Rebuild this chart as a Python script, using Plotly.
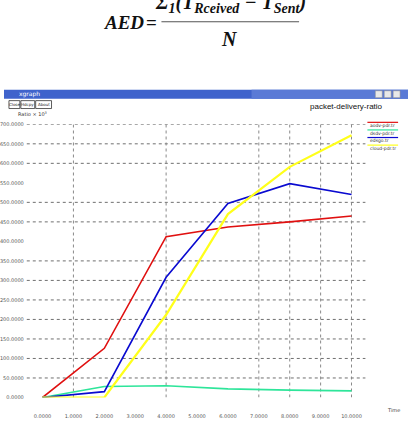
import plotly.graph_objects as go

# ---- data ----
time = [0, 2, 4, 6, 8, 10]
series_names = ["aodv-pdr.tr", "dsdv-pdr.tr", "edsgo.tr", "cloud-pdr.tr"]
red_vals = [0, 126, 412, 437, 450, 465]
green_vals = [0, 28, 30, 22, 19, 17]
blue_vals = [0, 15, 308, 497, 548, 520]
yellow_vals = [0, 0, 212, 470, 591, 672]
series_vals = [red_vals, green_vals, blue_vals, yellow_vals]
series_colors = ["#e01010", "#2ee59a", "#0a0ad0", "#ffff1a"]
series_widths = [1.6, 1.6, 1.6, 2.2]

x_ticks = [0, 1, 2, 3, 4, 5, 6, 7, 8, 9, 10]
y_ticks = list(range(0, 701, 50))
x_grid = [1, 4, 7, 8, 9, 10]
y_grid = [50, 100, 150, 200, 250, 300, 350, 450, 500, 600, 650, 700]

W, H = 408, 436
def px(x):
    return x / W
def py(y):
    return 1 - y / H

def ann(x, y, text, size, color="#333", family="DejaVu Sans", xa="center", ya="middle"):
    return dict(x=px(x), y=py(y), xref="paper", yref="paper", text=text, showarrow=False,
                xanchor=xa, yanchor=ya, font=dict(size=size, color=color, family=family))

fig = go.Figure()
for name, vals, col, w in zip(series_names, series_vals, series_colors, series_widths):
    fig.add_trace(go.Scatter(x=time, y=vals, mode="lines", name=name,
                             line=dict(color=col, width=w), showlegend=False))

shapes = []
for gx in x_grid:
    shapes.append(dict(type="line", xref="x", yref="y", x0=gx, x1=gx, y0=0, y1=700,
                       line=dict(color="#8a8a8a", width=1, dash="dot"), layer="below"))
for gy in y_grid:
    shapes.append(dict(type="line", xref="x domain", yref="y", x0=0, x1=1, y0=gy, y1=gy,
                       line=dict(color="#6f6f6f", width=1, dash="dot"), layer="below"))

annotations = []
# window chrome
shapes.append(dict(type="rect", xref="paper", yref="paper", x0=0, x1=1, y0=py(97), y1=py(88),
                   fillcolor="#3f63cc", line=dict(width=0)))
shapes.append(dict(type="rect", xref="paper", yref="paper", x0=px(250), x1=1, y0=py(97), y1=py(88),
                   fillcolor="#5a7ad6", line=dict(width=0)))
for bx in [375, 384, 393]:
    shapes.append(dict(type="rect", xref="paper", yref="paper", x0=px(bx), x1=px(bx + 7),
                       y0=py(96), y1=py(89), fillcolor="#e8e8e8", line=dict(color="#888", width=0.5)))
buttons = [("Close", 5, 16), ("Hdcpy", 17, 31), ("About", 32, 48)]
for label, b0, b1 in buttons:
    shapes.append(dict(type="rect", xref="paper", yref="paper", x0=px(b0), x1=px(b1),
                       y0=py(107), y1=py(99), fillcolor="white", line=dict(color="#333", width=0.8)))
    annotations.append(ann((b0 + b1) / 2, 103, label, 4, "#222"))

# formula fraction bar
shapes.append(dict(type="line", xref="paper", yref="paper", x0=px(159), x1=px(298), y0=py(19), y1=py(19),
                   line=dict(color="#555", width=1.2)))

# legend
for i, (name, col) in enumerate(zip(series_names, series_colors)):
    ly = 121 + i * 7.7
    shapes.append(dict(type="line", xref="paper", yref="paper", x0=px(367), x1=px(398), y0=py(ly), y1=py(ly),
                       line=dict(color=col, width=1.2)))
    annotations.append(ann(368, ly + 3.3, name, 4.5, "#333", xa="left"))

formula_font_family = "Liberation Serif"
annotations += [
    ann(121, 20, "<b><i>AED</i></b>", 19, "#111", formula_font_family),
    ann(149, 20, "<b>=</b>", 19, "#111", formula_font_family),
    ann(228, 36, "<b><i>N</i></b>", 20, "#111", formula_font_family),
    ann(229, 15, "<b><i>Σ<sub>1</sub>(T<sub>Rceived</sub> − T<sub>Sent</sub>)</i></b>", 20, "#111",
        formula_font_family, ya="bottom"),
    ann(13, 92.5, "xgraph", 6, "white", xa="left"),
    ann(12, 113, "Ratio × 10<sup>3</sup>", 5, "#333", xa="left"),
    ann(346, 105, "packet-delivery-ratio", 8, "#111", "Liberation Sans"),
    ann(393, 413, "Time", 5, "#444"),
]

fig.update_layout(
    width=W, height=H, margin=dict(l=0, r=0, t=0, b=0),
    paper_bgcolor="white", plot_bgcolor="white",
    shapes=shapes, annotations=annotations, showlegend=False,
    xaxis=dict(domain=[px(23), px(365)], range=[-0.51, 10.45], showgrid=False, zeroline=False,
               tickvals=x_ticks, ticktext=[f"{v:.4f}" for v in x_ticks],
               ticks="outside", ticklen=14, tickcolor="rgba(0,0,0,0)",
               tickfont=dict(size=5, color="#555", family="DejaVu Sans"), showline=False),
    yaxis=dict(domain=[py(400), py(123)], range=[0, 700], showgrid=False, zeroline=False,
               tickvals=y_ticks, ticktext=[f"{v:.4f}" for v in y_ticks],
               ticks="outside", ticklen=1, tickcolor="rgba(0,0,0,0)",
               tickfont=dict(size=5, color="#555", family="DejaVu Sans"), showline=False),
)

fig.write_html("out.html")
